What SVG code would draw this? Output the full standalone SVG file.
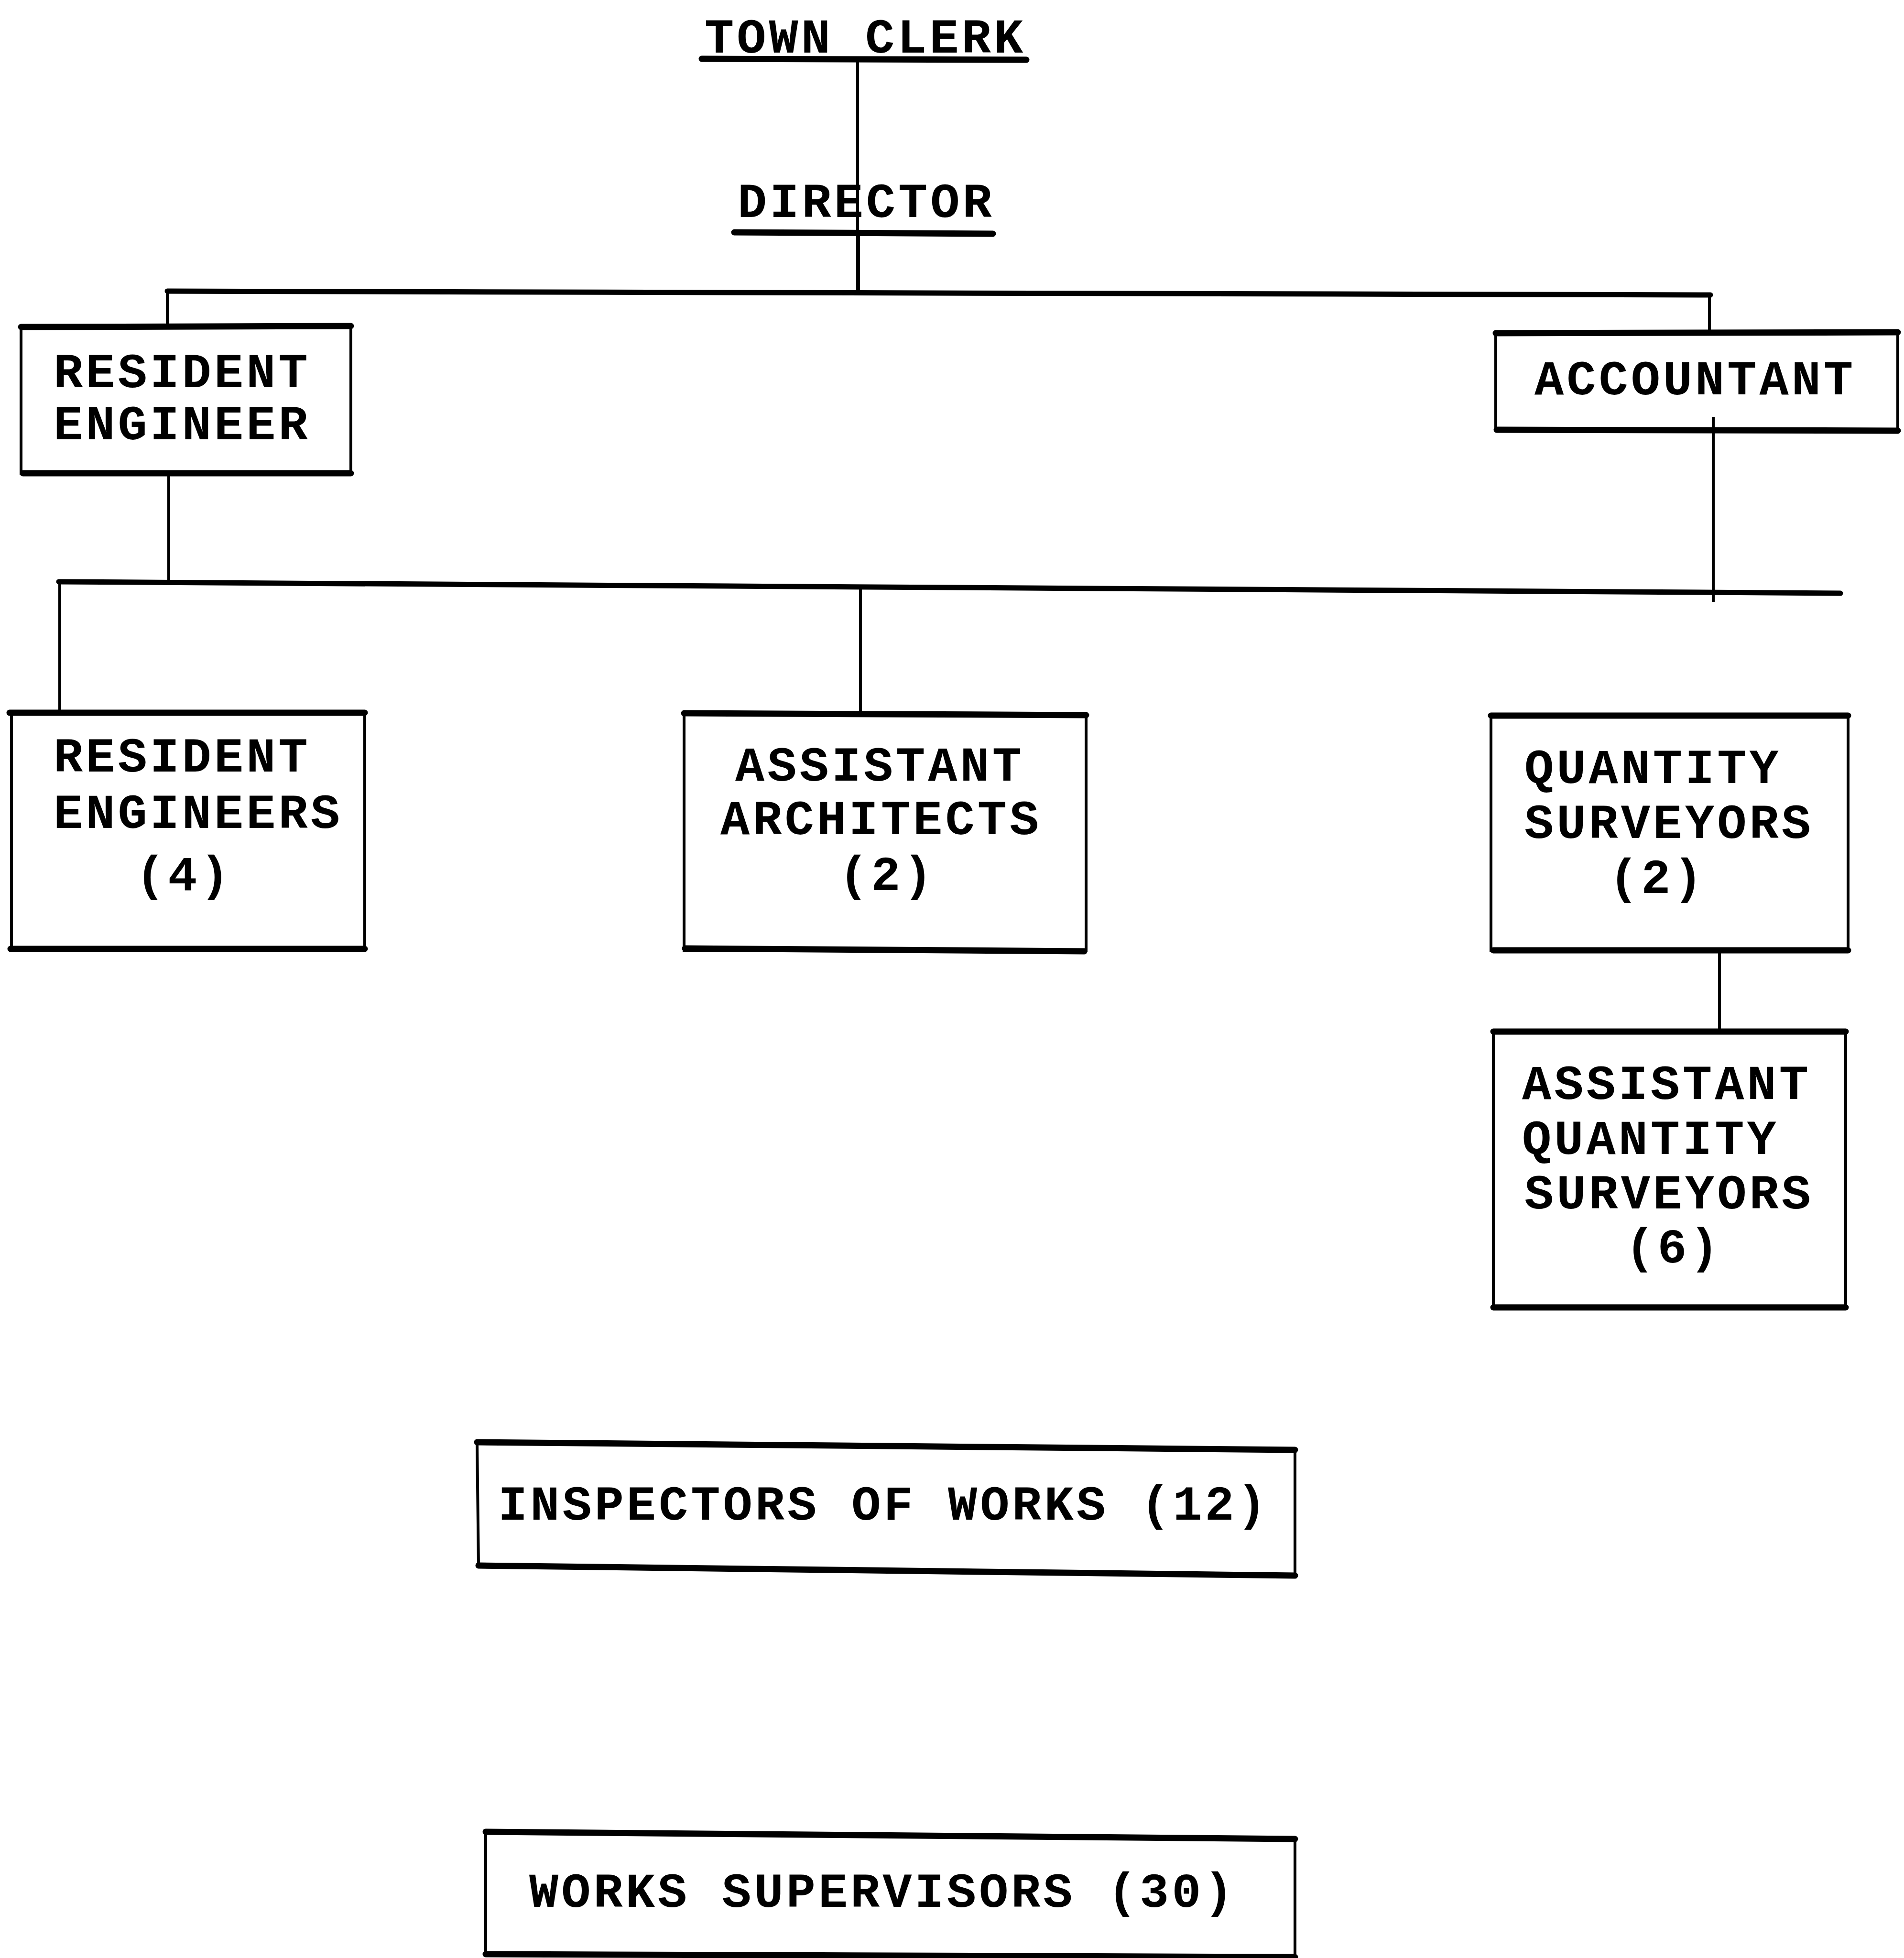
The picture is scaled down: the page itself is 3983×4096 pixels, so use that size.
<svg xmlns="http://www.w3.org/2000/svg" width="3983" height="4096" viewBox="0 0 3983 4096">
<style>
.bg{fill:#fff}
.box{fill:none;stroke:#000;stroke-width:6}
.hb{stroke:#000;stroke-width:13;stroke-linecap:round}
.ln{stroke:#000;stroke-width:6;fill:none}
.bar{stroke:#000;stroke-width:11;fill:none;stroke-linecap:round}
.t{font-family:"Liberation Mono","Courier New",monospace;font-weight:bold;font-size:102px;letter-spacing:6px;fill:#000}
</style>
<rect class="bg" x="0" y="0" width="3983" height="4096"/>
<g id="connectors">
  <line class="ln" x1="1794" y1="123" x2="1794" y2="609"/>
  <line class="ln" x1="1796" y1="488" x2="1796" y2="612"/>
  <polyline class="bar" points="350,609 3578,617"/>
  <line class="ln" x1="350" y1="609" x2="350" y2="684"/>
  <line class="ln" x1="3576" y1="617" x2="3576" y2="695"/>
  <line class="ln" x1="353" y1="990" x2="353" y2="1217"/>
  <polyline class="bar" points="123,1217 3850,1241"/>
  <line class="ln" x1="3584" y1="872" x2="3584" y2="1259"/>
  <line class="ln" x1="125" y1="1217" x2="125" y2="1489"/>
  <line class="ln" x1="1800" y1="1230" x2="1800" y2="1494"/>
  <line class="ln" x1="3597" y1="1988" x2="3597" y2="2158"/>
</g>
<g id="town-clerk">
  <text class="t" x="1474" y="110">TOWN CLERK</text>
  <line class="hb" x1="1468" y1="123" x2="2147" y2="125"/>
</g>
<g id="director">
  <text class="t" x="1543" y="454">DIRECTOR</text>
  <line class="hb" x1="1536" y1="486" x2="2077" y2="489"/>
</g>
<g id="resident-engineer">
  <rect class="box" x="44" y="684" width="690" height="306"/>
  <line class="hb" x1="44" y1="684" x2="734" y2="682"/>
  <line class="hb" x1="48" y1="990" x2="734" y2="990"/>
  <text class="t" x="112" y="810">RESIDENT</text>
  <text class="t" x="112" y="919">ENGINEER</text>
</g>
<g id="accountant">
  <rect class="box" x="3129" y="695" width="841" height="206"/>
  <line class="hb" x1="3129" y1="697" x2="3970" y2="695"/>
  <line class="hb" x1="3131" y1="899" x2="3970" y2="901"/>
  <text class="t" x="3210" y="825">ACCOUNTANT</text>
</g>
<g id="resident-engineers">
  <rect class="box" x="24" y="1491" width="739" height="494"/>
  <line class="hb" x1="20" y1="1491" x2="763" y2="1491"/>
  <line class="hb" x1="22" y1="1985" x2="763" y2="1985"/>
  <text class="t" x="112" y="1614">RESIDENT</text>
  <text class="t" x="112" y="1732">ENGINEERS</text>
  <text class="t" x="284" y="1862">(4)</text>
</g>
<g id="assistant-architects">
  <rect class="box" x="1431" y="1494" width="841" height="494"/>
  <line class="hb" x1="1431" y1="1492" x2="2272" y2="1496"/>
  <line class="hb" x1="1433" y1="1984" x2="2268" y2="1990"/>
  <text class="t" x="1538" y="1633">ASSISTANT</text>
  <text class="t" x="1507" y="1745">ARCHITECTS</text>
  <text class="t" x="1755" y="1862">(2)</text>
</g>
<g id="quantity-surveyors">
  <rect class="box" x="3119" y="1497" width="747" height="491"/>
  <line class="hb" x1="3119" y1="1497" x2="3866" y2="1497"/>
  <line class="hb" x1="3124" y1="1988" x2="3866" y2="1988"/>
  <text class="t" x="3189" y="1638">QUANTITY</text>
  <text class="t" x="3189" y="1753">SURVEYORS</text>
  <text class="t" x="3366" y="1868">(2)</text>
</g>
<g id="assistant-quantity-surveyors">
  <rect class="box" x="3124" y="2158" width="737" height="577"/>
  <line class="hb" x1="3124" y1="2158" x2="3861" y2="2158"/>
  <line class="hb" x1="3124" y1="2735" x2="3861" y2="2735"/>
  <text class="t" x="3184" y="2299">ASSISTANT</text>
  <text class="t" x="3184" y="2414">QUANTITY</text>
  <text class="t" x="3189" y="2528">SURVEYORS</text>
  <text class="t" x="3400" y="2641">(6)</text>
</g>
<g id="inspectors-of-works">
  <polygon class="box" points="998,3017 2709,3033 2709,3296 1001,3275"/>
  <line class="hb" x1="998" y1="3017" x2="2709" y2="3033"/>
  <line class="hb" x1="1001" y1="3275" x2="2709" y2="3296"/>
  <text class="t" x="1042" y="3179">INSPECTORS OF WORKS (12)</text>
</g>
<g id="works-supervisors">
  <polygon class="box" points="1016,3832 2709,3847 2709,4096 1016,4088"/>
  <line class="hb" x1="1016" y1="3832" x2="2709" y2="3847"/>
  <line class="hb" x1="1016" y1="4088" x2="2709" y2="4094"/>
  <text class="t" x="1107" y="3989">WORKS SUPERVISORS (30)</text>
</g>
</svg>
